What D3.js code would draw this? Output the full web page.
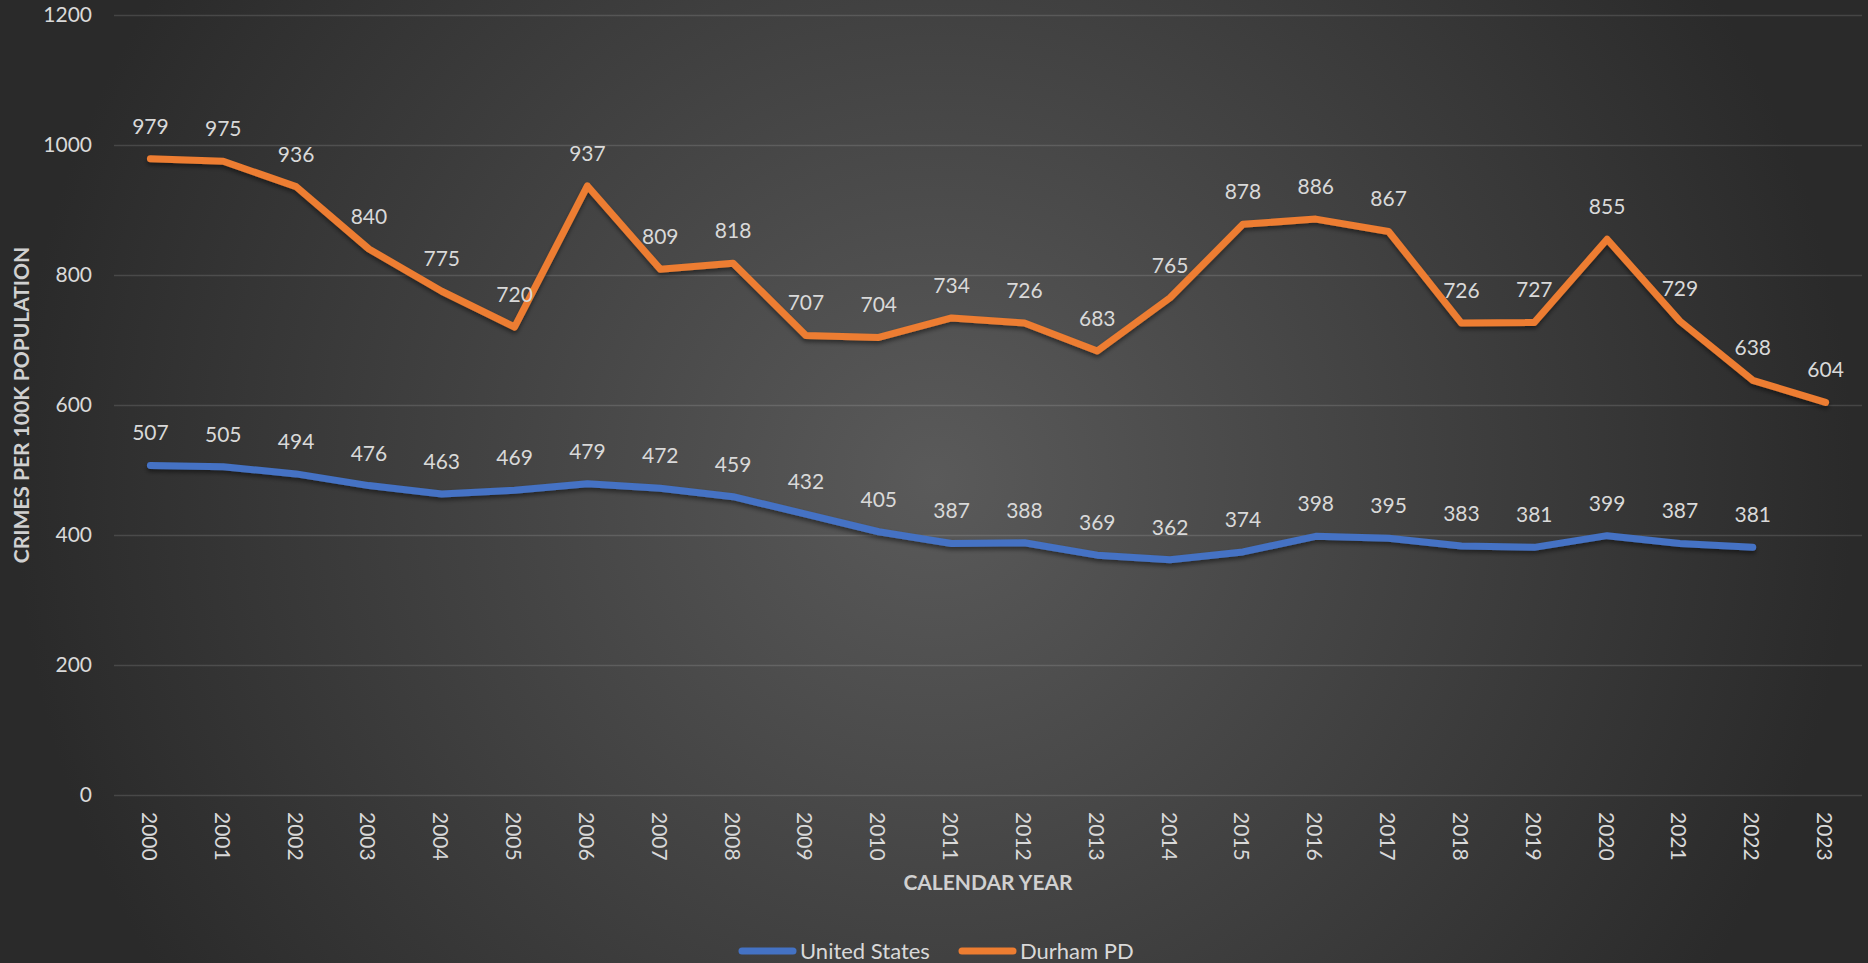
<!DOCTYPE html>
<html>
<head>
<meta charset="utf-8">
<script src="https://cdn.jsdelivr.net/npm/d3@7"></script>
<style>
  html, body { margin: 0; padding: 0; background: #2a2a2a; }
  svg { display: block; }
  text { font-family: Lato, "Open Sans", sans-serif; }
</style>
</head>
<body>
<svg id="chart"></svg>
<script>
const years = ['2000', '2001', '2002', '2003', '2004', '2005', '2006', '2007', '2008', '2009', '2010', '2011',
  '2012', '2013', '2014', '2015', '2016', '2017', '2018', '2019', '2020', '2021', '2022', '2023'];
const unitedStates = [507, 505, 494, 476, 463, 469, 479, 472, 459, 432, 405, 387,
  388, 369, 362, 374, 398, 395, 383, 381, 399, 387, 381];
const durhamPD = [979, 975, 936, 840, 775, 720, 937, 809, 818, 707, 704, 734,
  726, 683, 765, 878, 886, 867, 726, 727, 855, 729, 638, 604];
const yTicks = [0, 200, 400, 600, 800, 1000, 1200];

const width = 1868;
const height = 963;
const margin = { top: 15, right: 6, bottom: 168, left: 114 };

const series = [
  { name: 'United States', values: unitedStates, color: '#4472c4' },
  { name: 'Durham PD', values: durhamPD, color: '#ed7d31' },
];

const svg = d3.select('#chart')
  .attr('width', width)
  .attr('height', height);

const defs = svg.append('defs');

const grad = defs.append('radialGradient')
  .attr('id', 'bg')
  .attr('gradientUnits', 'userSpaceOnUse')
  .attr('cx', width / 2)
  .attr('cy', 480)
  .attr('r', 920);
grad.append('stop').attr('offset', 0).attr('stop-color', '#5a5a5a');
grad.append('stop').attr('offset', 1).attr('stop-color', '#2a2a2a');

const shadow = defs.append('filter')
  .attr('id', 'shadow')
  .attr('x', '-5%').attr('y', '-20%')
  .attr('width', '110%').attr('height', '140%');
shadow.append('feDropShadow')
  .attr('dx', 0)
  .attr('dy', 3)
  .attr('stdDeviation', 2)
  .attr('flood-color', '#000')
  .attr('flood-opacity', 0.45);

svg.append('rect')
  .attr('width', width)
  .attr('height', height)
  .attr('fill', 'url(#bg)');

const x = d3.scaleBand()
  .domain(years)
  .range([margin.left, width - margin.right]);

const y = d3.scaleLinear()
  .domain([0, 1200])
  .range([height - margin.bottom, margin.top]);

const cx = (i) => x(years[i]) + x.bandwidth() / 2;

// gridlines + y labels
const yAxis = svg.append('g')
  .attr('transform', `translate(${margin.left},0)`)
  .call(d3.axisLeft(y)
    .tickValues(yTicks)
    .tickFormat(d3.format('d'))
    .tickSize(-(width - margin.left - margin.right))
    .tickPadding(22));

yAxis.select('.domain').remove();
yAxis.selectAll('.tick line')
  .attr('stroke', 'rgba(255,255,255,0.13)')
  .attr('stroke-width', 1.6);
yAxis.selectAll('.tick text')
  .attr('fill', '#d9d9d9')
  .style('font-size', '21px');

// x labels
const xAxis = svg.append('g')
  .attr('transform', `translate(0,${height - margin.bottom})`)
  .call(d3.axisBottom(x).tickSize(0));

xAxis.select('.domain').remove();
xAxis.selectAll('.tick text')
  .attr('fill', '#d9d9d9')
  .style('font-size', '21px')
  .attr('text-anchor', 'start')
  .attr('dy', 0)
  .attr('dominant-baseline', 'central')
  .attr('transform', 'translate(0,17) rotate(90)')
  .attr('y', 0)
  .attr('x', 0);

// axis titles
svg.append('text')
  .attr('x', (margin.left + width - margin.right) / 2)
  .attr('y', 890)
  .attr('text-anchor', 'middle')
  .attr('fill', '#d0d0d0')
  .style('font-size', '21px')
  .style('font-weight', 'bold')
  .text('CALENDAR YEAR');

svg.append('text')
  .attr('transform', `translate(29,${(y(0) + y(1200)) / 2}) rotate(-90)`)
  .attr('text-anchor', 'middle')
  .attr('fill', '#d0d0d0')
  .style('font-size', '21px')
  .style('font-weight', 'bold')
  .text('CRIMES PER 100K POPULATION');

// lines
const line = d3.line()
  .x((d, i) => cx(i))
  .y((d) => y(d));

const g = svg.append('g');

series.forEach((s) => {
  g.append('path')
    .datum(s.values)
    .attr('d', line)
    .attr('fill', 'none')
    .attr('stroke', s.color)
    .attr('stroke-width', 7)
    .attr('stroke-linejoin', 'round')
    .attr('stroke-linecap', 'round')
    .attr('filter', 'url(#shadow)');

  g.selectAll(null)
    .data(s.values)
    .enter()
    .append('text')
    .attr('x', (d, i) => cx(i))
    .attr('y', (d) => y(d) - 25)
    .attr('text-anchor', 'middle')
    .attr('fill', '#d9d9d9')
    .style('font-size', '21px')
    .text((d) => d);
});

// legend
const legend = svg.append('g')
  .attr('transform', 'translate(738,951)');

const legendX = [0, 220];
series.forEach((s, i) => {
  const item = legend.append('g')
    .attr('transform', `translate(${legendX[i]},0)`);

  item.append('line')
    .attr('x1', 4).attr('x2', 55)
    .attr('y1', 0).attr('y2', 0)
    .attr('stroke', s.color)
    .attr('stroke-width', 7)
    .attr('stroke-linecap', 'round');

  item.append('text')
    .attr('x', 62)
    .attr('y', 8)
    .attr('fill', '#d9d9d9')
    .style('font-size', '22px')
    .text(s.name);
});
</script>
</body>
</html>
